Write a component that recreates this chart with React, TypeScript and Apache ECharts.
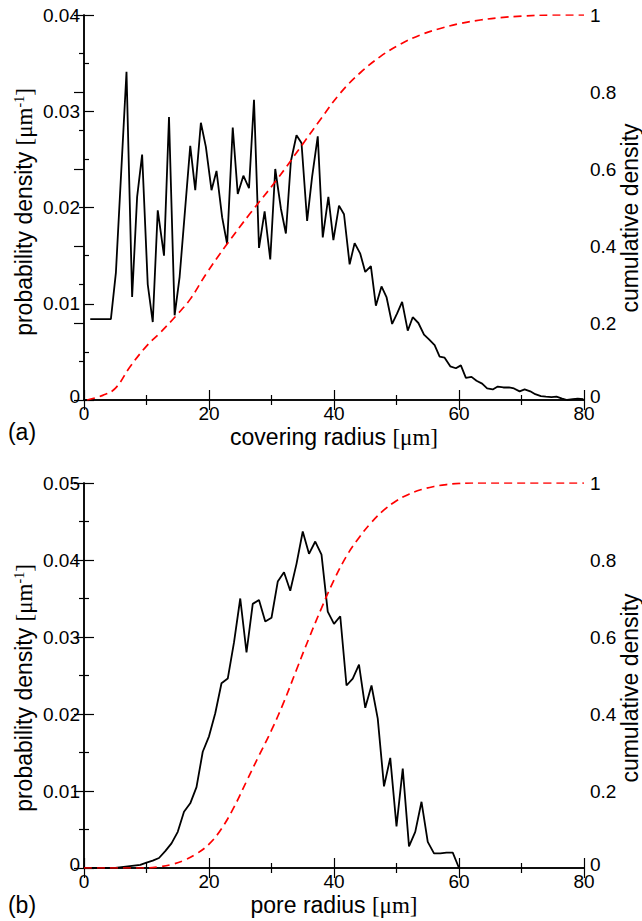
import React, { useEffect, useRef } from "react";
import * as echarts from "echarts";

// (a) covering radius: probability density
const coverX = [1.0, 4.3, 5.1, 6.8, 7.7, 8.5, 9.3, 10.2, 11.0, 11.8, 12.8, 13.6, 14.5, 15.3, 17.0, 17.8, 18.7, 19.5, 20.4, 21.2, 22.1, 22.9, 23.8, 24.6, 25.5, 26.4, 27.2, 28.0, 28.9, 29.8, 30.6, 31.5, 32.3, 33.1, 34.0, 34.8, 35.7, 36.5, 37.4, 38.2, 39.1, 39.9, 40.8, 41.6, 42.5, 43.3, 44.2, 45.0, 45.9, 46.7, 47.6, 48.4, 49.3, 50.1, 50.9, 51.8, 52.6, 53.5, 54.4, 55.2, 56.1, 56.9, 57.7, 58.6, 59.5, 60.3, 61.1, 62.0, 62.8, 63.7, 64.5, 65.4, 66.2, 67.1, 68.0, 68.8, 69.7, 70.5, 71.4, 72.2, 73.1, 73.9, 74.8, 75.6, 76.5, 77.3, 78.2, 79.0, 79.9];
const coverDensity = [0.0084, 0.0084, 0.0132, 0.0341, 0.0107, 0.0211, 0.0255, 0.0120, 0.0081, 0.0197, 0.0150, 0.0294, 0.0088, 0.0128, 0.0264, 0.0218, 0.0288, 0.0263, 0.0218, 0.0238, 0.0190, 0.0162, 0.0283, 0.0214, 0.0233, 0.0220, 0.0312, 0.0158, 0.0196, 0.0146, 0.0240, 0.0199, 0.0173, 0.0248, 0.0275, 0.0267, 0.0186, 0.0232, 0.0274, 0.0169, 0.0211, 0.0166, 0.0202, 0.0193, 0.0141, 0.0163, 0.0152, 0.0133, 0.0139, 0.0098, 0.0118, 0.0107, 0.0079, 0.0090, 0.0102, 0.0072, 0.0086, 0.0080, 0.0068, 0.0063, 0.0057, 0.0045, 0.0044, 0.0035, 0.0033, 0.0036, 0.0023, 0.0024, 0.0020, 0.0017, 0.0012, 0.0011, 0.0014, 0.0013, 0.0013, 0.0012, 0.0009, 0.0011, 0.0009, 0.0006, 0.0004, 0.00035, 0.0003, 0.00035, 0.00015, 0.0, 0.0001, 0.00015, 0.0001];
// (a) cumulative density
const coverCumX = [0.5, 3.0, 5.0, 7.4, 10.0, 12.2, 14.8, 17.0, 19.6, 22.8, 26.6, 30.8, 35.1, 37.8, 41.0, 44.2, 47.4, 50.6, 53.8, 57.0, 60.2, 63.4, 66.6, 70.0, 75.0, 80.0];
const coverCum = [0, 0.012, 0.03, 0.087, 0.140, 0.175, 0.220, 0.262, 0.329, 0.403, 0.485, 0.571, 0.667, 0.728, 0.797, 0.850, 0.892, 0.924, 0.948, 0.965, 0.978, 0.987, 0.993, 0.997, 1.0, 1.0];

// (b) pore radius: probability density
const poreX = [0, 1, 2, 3, 4, 5, 6, 7, 8, 9, 10, 11, 12, 13, 14, 15, 16, 17, 18, 19, 20, 21, 22, 23, 24, 25, 26, 27, 28, 29, 30, 31, 32, 33, 34, 35, 36, 37, 38, 39, 40, 41, 42, 43, 44, 45, 46, 47, 48, 49, 50, 51, 52, 53, 54, 55, 56, 57, 58, 59, 60];
const poreDensity = [0, 0, 0, 0, 0, 0, 0.0001, 0.0002, 0.0003, 0.0004, 0.0007, 0.00095, 0.0013, 0.0022, 0.0032, 0.0047, 0.0073, 0.0084, 0.0105, 0.0151, 0.0171, 0.0201, 0.0240, 0.0246, 0.0293, 0.0350, 0.0280, 0.0343, 0.0348, 0.0320, 0.0325, 0.0372, 0.0384, 0.0360, 0.0395, 0.0437, 0.0408, 0.0424, 0.0407, 0.0333, 0.0317, 0.0327, 0.0237, 0.0246, 0.0264, 0.0208, 0.0237, 0.0194, 0.0106, 0.0143, 0.0054, 0.0129, 0.0028, 0.0047, 0.0086, 0.0034, 0.0019, 0.0019, 0.0020, 0.0020, 0];
// (b) cumulative density
const poreCumX = [0, 10, 12, 14, 16, 18, 20, 22, 24, 26, 28, 30, 32, 34, 36, 38, 40, 42, 44, 46, 48, 50, 52, 54, 56, 58, 60, 62, 80];
const poreCum = [0, 0, 0.003, 0.009, 0.020, 0.037, 0.062, 0.102, 0.158, 0.225, 0.292, 0.358, 0.432, 0.515, 0.597, 0.675, 0.748, 0.810, 0.858, 0.898, 0.930, 0.954, 0.971, 0.983, 0.991, 0.996, 0.999, 1.0, 1.0];

const xTitles = ["covering radius ", "pore radius "];
const panelLabels = ["(a)", "(b)"];
const leftTitle = "probability density ";
const rightTitle = "cumulative density";

const FONT = "'Liberation Sans', Arial, Helvetica, sans-serif";
const SERIF = "'Liberation Serif', 'Times New Roman', serif";

const zip = (xs: number[], ys: number[]) => xs.map((x, i) => [x, ys[i]]);

const axisLine = { show: true, lineStyle: { color: "#000", width: 1.5 } };
const tick = { show: true, inside: true, length: 10, lineStyle: { color: "#000", width: 1.2 } };
const minor = { show: true, splitNumber: 2, length: 5, lineStyle: { color: "#000", width: 1.2 } };
const lbl = (show: boolean, margin: number, raiseZero: boolean) => ({
  show, color: "#000", fontSize: 19, fontFamily: FONT, margin,
  formatter: raiseZero ? (v: number) => (v === 0 ? "{z|0}" : String(v)) : undefined,
  rich: { z: { fontSize: 19, fontFamily: FONT, color: "#000", padding: [0, 0, 8, 0] } },
});

function xAx(gridIndex: number, position: string, showLabel: boolean) {
  return {
    type: "value", gridIndex, position, min: 0, max: 80, interval: 20,
    axisLine, axisTick: tick, minorTick: minor,
    splitLine: { show: false }, minorSplitLine: { show: false },
    axisLabel: lbl(showLabel, 4, false),
  };
}
function yAx(gridIndex: number, position: string, max: number, interval: number, margin: number) {
  return {
    type: "value", gridIndex, position, min: 0, max, interval,
    axisLine, axisTick: tick, minorTick: minor,
    splitLine: { show: false }, minorSplitLine: { show: false },
    axisLabel: lbl(true, margin, true),
  };
}

const rich = {
  s: { fontFamily: SERIF, fontSize: 23, fill: "#000" },
  sup: { fontFamily: SERIF, fontSize: 14, fill: "#000", verticalAlign: "top" },
};

function titleText(text: string, x: number, y: number, rotation: number) {
  return {
    type: "text", x, y, rotation,
    style: { text, fontFamily: FONT, fontSize: 23, fill: "#000", align: "center", verticalAlign: "middle", rich },
  };
}

const grids = [
  { left: 84, top: 15, width: 500, height: 385 },
  { left: 84, top: 483, width: 500, height: 385 },
];

const option: any = {
  animation: false,
  backgroundColor: "#fff",
  grid: grids,
  xAxis: [xAx(0, "bottom", true), xAx(0, "top", false), xAx(1, "bottom", true), xAx(1, "top", false)],
  yAxis: [
    yAx(0, "left", 0.04, 0.01, 4),
    yAx(0, "right", 1, 0.2, 6),
    yAx(1, "left", 0.05, 0.01, 4),
    yAx(1, "right", 1, 0.2, 6),
  ],
  series: [
    { type: "line", xAxisIndex: 0, yAxisIndex: 0, data: zip(coverX, coverDensity), showSymbol: false, lineStyle: { color: "#000", width: 1.8 }, z: 3 },
    { type: "line", xAxisIndex: 0, yAxisIndex: 1, data: zip(coverCumX, coverCum), showSymbol: false, smooth: 0.4, lineStyle: { color: "#ff0000", width: 1.7, type: [8, 5] }, z: 4 },
    { type: "line", xAxisIndex: 2, yAxisIndex: 2, data: zip(poreX, poreDensity), showSymbol: false, lineStyle: { color: "#000", width: 1.8 }, z: 3 },
    { type: "line", xAxisIndex: 2, yAxisIndex: 3, data: zip(poreCumX, poreCum), showSymbol: false, smooth: 0.4, lineStyle: { color: "#ff0000", width: 1.7, type: [8, 5] }, z: 4 },
  ],
  graphic: [
    titleText(xTitles[0] + "{s|[μm]}", 334, 437, 0),
    titleText(xTitles[1] + "{s|[μm]}", 334, 905, 0),
    titleText(panelLabels[0], 22, 432, 0),
    titleText(panelLabels[1], 22, 905, 0),
    titleText(leftTitle + "{s|[μm}{sup|-1}{s|]}", 24, 212, Math.PI / 2),
    titleText(leftTitle + "{s|[μm}{sup|-1}{s|]}", 24, 688, Math.PI / 2),
    titleText(rightTitle, 630, 218, Math.PI / 2),
    titleText(rightTitle, 630, 688, Math.PI / 2),
  ],
};

export default function App() {
  const ref = useRef<HTMLDivElement>(null);
  useEffect(() => {
    const chart = echarts.init(ref.current!, null, { renderer: "svg" });
    chart.setOption(option);
    return () => chart.dispose();
  }, []);
  return (
    <div
      ref={ref}
      style={{ position: "absolute", left: 0, top: 0, width: 642, height: 921, background: "#fff" }}
    />
  );
}
